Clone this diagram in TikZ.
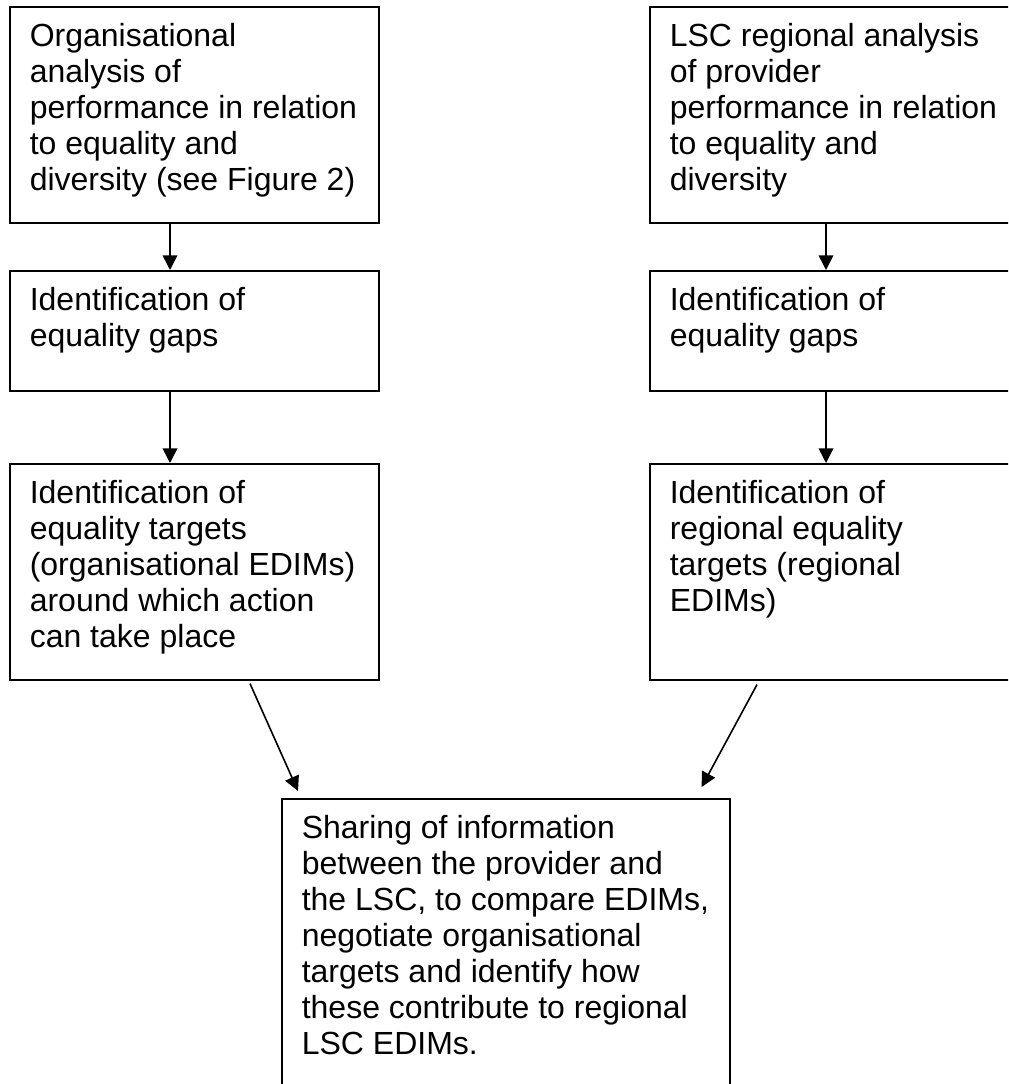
\documentclass[tikz,border=0pt]{standalone}
\usepackage{fontspec}
\setmainfont{Liberation Sans}
\usetikzlibrary{positioning, arrows.meta}

\newcommand{\stagetext}[3]{\hspace{7.5pt}\parbox[c][#2][t]{#1}{\raggedright\rule{0pt}{15pt}#3}}

\tikzset{
	stage/.style={draw, line width=0.6pt, inner sep=0pt, anchor=north west,
		font=\fontsize{12pt}{13.5pt}\selectfont},
	flow/.style={-{Triangle[length=5.5pt, width=5.5pt]}, line width=0.6pt}
}

\begin{document}
\begin{tikzpicture}[x=0.375pt, y=-0.375pt]
		
		%Page
		\useasboundingbox (0,0) rectangle (1008,1084);
		\clip (0,0) rectangle (1008,1084);
		
		%Provider column
		\node (orgAnalysis) at(9,6) [stage]{\stagetext{130.875pt}{81pt}{Organisational\\ analysis of\\ performance in relation\\ to equality and\\ diversity (see Figure 2)}};
		\node (orgGaps) at(9,270) [stage]{\stagetext{130.875pt}{45pt}{Identification of\\ equality gaps}};
		\node (orgTargets) at(9,463) [stage]{\stagetext{130.875pt}{81pt}{Identification of\\ equality targets\\ (organisational EDIMs)\\ around which action\\ can take place}};
		
		%LSC column
		\node (lscAnalysis) at(649,6) [stage]{\stagetext{130.875pt}{81pt}{LSC regional analysis\\ of provider\\ performance in relation\\ to equality and\\ diversity}};
		\node (lscGaps) at(649,270) [stage]{\stagetext{130.875pt}{45pt}{Identification of\\ equality gaps}};
		\node (lscTargets) at(649,463) [stage]{\stagetext{130.875pt}{81pt}{Identification of\\ regional equality\\ targets (regional\\ EDIMs)}};
		
		%Sharing
		\node (sharing) at(281,798) [stage]{\stagetext{160.5pt}{112.5pt}{Sharing of information\\ between the provider and\\ the LSC, to compare EDIMs,\\ negotiate organisational\\ targets and identify how\\ these contribute to regional\\ LSC EDIMs.}};
		
		%Arrows
		\coordinate (leftCol) at (170,0);
		\coordinate (rightCol) at (826,0);
		\draw[flow] (orgAnalysis.south -| leftCol) -- (orgGaps.north -| leftCol);
		\draw[flow] (orgGaps.south -| leftCol) -- (orgTargets.north -| leftCol);
		\draw[flow] (lscAnalysis.south -| rightCol) -- (lscGaps.north -| rightCol);
		\draw[flow] (lscGaps.south -| rightCol) -- (lscTargets.north -| rightCol);
		\draw[flow] ([shift={(241,3)}]orgTargets.south west) -- ([shift={(17,-7)}]sharing.north west);
		\draw[flow] ([shift={(108,4)}]lscTargets.south west) -- ([shift={(-29,-11)}]sharing.north east);
		
\end{tikzpicture}
\end{document}
